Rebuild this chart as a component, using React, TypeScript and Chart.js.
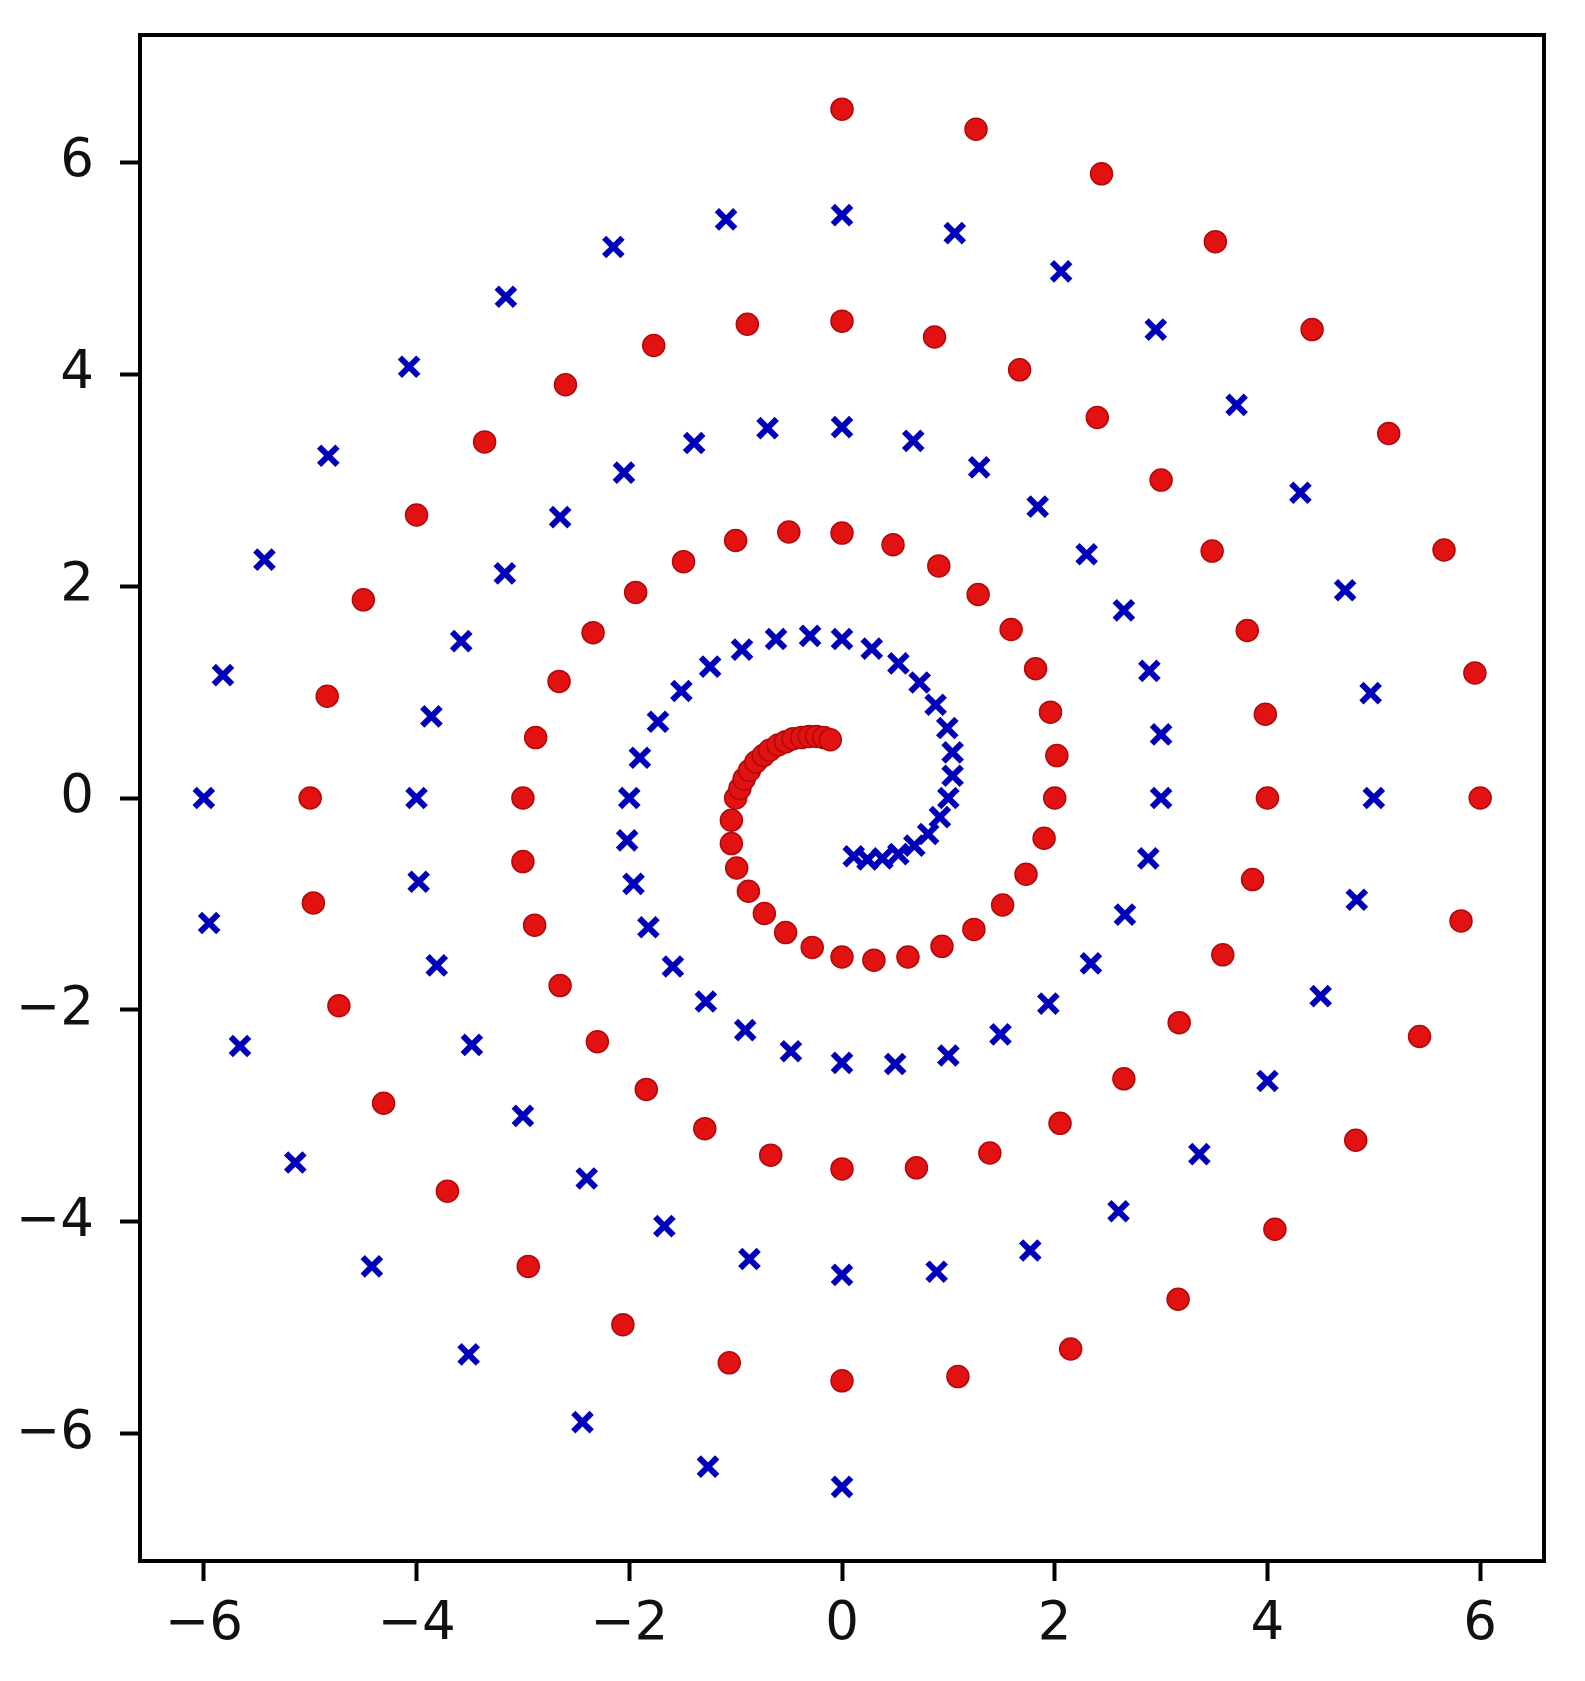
import React, { useEffect, useRef } from 'react';
import { Chart, registerables } from 'chart.js';

Chart.register(...registerables);

// Class A spiral (red circles), outer end first
// (the innermost curl is drawn densely in the picture, so it has more points)
const redX = [
  0, 1.26, 2.44, 3.51, 4.42, 5.14, 5.66, 5.95, 6.0, 5.82, 5.43, 4.83, 4.07, 3.16, 2.15, 1.09,
  0, -1.06, -2.06, -2.95, -3.71, -4.31, -4.73, -4.97, -5.0, -4.84, -4.5, -4.0, -3.36, -2.6, -1.77, -0.89,
  0, 0.87, 1.67, 2.4, 3.0, 3.48, 3.81, 3.98, 4.0, 3.86, 3.58, 3.17, 2.65, 2.05, 1.39, 0.7,
  0, -0.67, -1.29, -1.84, -2.3, -2.65, -2.89, -3.0, -3.0, -2.88, -2.66, -2.34, -1.94, -1.49, -1.0, -0.5,
  0, 0.48, 0.91, 1.28, 1.59, 1.82, 1.96, 2.02, 2.0, 1.9, 1.73, 1.51, 1.24, 0.94, 0.62, 0.3,
  0, -0.28, -0.53, -0.73, -0.88, -0.99, -1.04, -1.04,
  -1.0, -0.96, -0.92, -0.87, -0.81, -0.74, -0.68, -0.6, -0.53, -0.46, -0.38, -0.31, -0.24, -0.17, -0.11,
];
const redY = [
  6.5, 6.31, 5.89, 5.25, 4.42, 3.44, 2.34, 1.18, 0, -1.16, -2.25, -3.23, -4.07, -4.73, -5.2, -5.46,
  -5.5, -5.33, -4.97, -4.42, -3.71, -2.88, -1.96, -0.99, 0, 0.96, 1.87, 2.67, 3.36, 3.9, 4.27, 4.47,
  4.5, 4.35, 4.04, 3.59, 3.0, 2.33, 1.58, 0.79, 0, -0.77, -1.48, -2.12, -2.65, -3.07, -3.35, -3.49,
  -3.5, -3.37, -3.12, -2.75, -2.3, -1.77, -1.2, -0.6, 0, 0.57, 1.1, 1.56, 1.94, 2.23, 2.43, 2.51,
  2.5, 2.39, 2.19, 1.92, 1.59, 1.22, 0.81, 0.4, 0, -0.38, -0.72, -1.01, -1.24, -1.4, -1.5, -1.53,
  -1.5, -1.41, -1.27, -1.09, -0.88, -0.66, -0.43, -0.21,
  0, 0.09, 0.18, 0.26, 0.34, 0.4, 0.45, 0.5, 0.53, 0.56, 0.57, 0.58, 0.58, 0.57, 0.55,
];

// Class B spiral (blue crosses), outer end first
const blueX = [
  0, -1.26, -2.44, -3.51, -4.42, -5.14, -5.66, -5.95, -6.0, -5.82, -5.43, -4.83, -4.07, -3.16, -2.15, -1.09,
  0, 1.06, 2.06, 2.95, 3.71, 4.31, 4.73, 4.97, 5.0, 4.84, 4.5, 4.0, 3.36, 2.6, 1.77, 0.89,
  0, -0.87, -1.67, -2.4, -3.0, -3.48, -3.81, -3.98, -4.0, -3.86, -3.58, -3.17, -2.65, -2.05, -1.39, -0.7,
  0, 0.67, 1.29, 1.84, 2.3, 2.65, 2.89, 3.0, 3.0, 2.88, 2.66, 2.34, 1.94, 1.49, 1.0, 0.5,
  0, -0.48, -0.91, -1.28, -1.59, -1.82, -1.96, -2.02, -2.0, -1.9, -1.73, -1.51, -1.24, -0.94, -0.62, -0.3,
  0, 0.28, 0.53, 0.73, 0.88, 0.99, 1.04, 1.04, 1.0, 0.92, 0.81, 0.68, 0.53, 0.38, 0.24, 0.11,
];
const blueY = [
  -6.5, -6.31, -5.89, -5.25, -4.42, -3.44, -2.34, -1.18, 0, 1.16, 2.25, 3.23, 4.07, 4.73, 5.2, 5.46,
  5.5, 5.33, 4.97, 4.42, 3.71, 2.88, 1.96, 0.99, 0, -0.96, -1.87, -2.67, -3.36, -3.9, -4.27, -4.47,
  -4.5, -4.35, -4.04, -3.59, -3.0, -2.33, -1.58, -0.79, 0, 0.77, 1.48, 2.12, 2.65, 3.07, 3.35, 3.49,
  3.5, 3.37, 3.12, 2.75, 2.3, 1.77, 1.2, 0.6, 0, -0.57, -1.1, -1.56, -1.94, -2.23, -2.43, -2.51,
  -2.5, -2.39, -2.19, -1.92, -1.59, -1.22, -0.81, -0.4, 0, 0.38, 0.72, 1.01, 1.24, 1.4, 1.5, 1.53,
  1.5, 1.41, 1.27, 1.09, 0.88, 0.66, 0.43, 0.21, 0, -0.18, -0.34, -0.45, -0.53, -0.57, -0.58, -0.55,
];

const xTicks = [-6, -4, -2, 0, 2, 4, 6];
const yTicks = [-6, -4, -2, 0, 2, 4, 6];
const xLimits = [-6.6, 6.6];
const yLimits = [-7.2, 7.2];

const fmt = (v: number | string) => {
  const n = Number(v);
  return n < 0 ? '\u2212' + Math.abs(n) : String(n);
};

const framePlugin = {
  id: 'frameBox',
  afterDatasetsDraw(chart: any) {
    const { ctx, chartArea: a } = chart;
    ctx.save();
    ctx.strokeStyle = '#000';
    ctx.lineWidth = 4;
    ctx.strokeRect(a.left, a.top, a.right - a.left, a.bottom - a.top);
    ctx.restore();
  },
};

export default function App() {
  const ref = useRef<HTMLCanvasElement | null>(null);

  useEffect(() => {
    if (!ref.current) return;
    const tickFont = { family: '"DejaVu Sans", sans-serif', size: 53 };
    const gridOpts = {
      display: true,
      drawOnChartArea: false,
      drawTicks: true,
      tickLength: 20,
      tickWidth: 4,
      tickColor: '#000',
      color: '#000',
    };
    const chart = new Chart(ref.current, {
      type: 'scatter',
      data: {
        datasets: [
          {
            label: 'red',
            data: redX.map((x, i) => ({ x, y: redY[i] })),
            pointStyle: 'circle',
            pointRadius: 11,
            backgroundColor: '#e21212',
            borderColor: '#b00a0a',
            borderWidth: 1.5,
          },
          {
            label: 'blue',
            data: blueX.map((x, i) => ({ x, y: blueY[i] })),
            pointStyle: 'crossRot',
            pointRadius: 13,
            borderColor: '#0000bb',
            backgroundColor: '#0000bb',
            borderWidth: 6,
          },
        ],
      },
      options: {
        animation: false,
        responsive: false,
        maintainAspectRatio: false,
        events: [],
        layout: { padding: { top: 35, right: 41, left: 0, bottom: 0 } },
        plugins: { legend: { display: false }, tooltip: { enabled: false } },
        scales: {
          x: {
            type: 'linear',
            min: xLimits[0],
            max: xLimits[1],
            afterBuildTicks: (s: any) => {
              s.ticks = xTicks.map((v) => ({ value: v }));
            },
            afterFit: (s: any) => {
              s.height = 120;
              s.paddingLeft = 0;
              s.paddingRight = 0;
            },
            grid: gridOpts,
            border: { display: false },
            ticks: {
              font: tickFont,
              color: '#111',
              padding: 12,
              maxRotation: 0,
              autoSkip: false,
              callback: fmt,
            },
          },
          y: {
            type: 'linear',
            min: yLimits[0],
            max: yLimits[1],
            afterBuildTicks: (s: any) => {
              s.ticks = yTicks.map((v) => ({ value: v }));
            },
            afterFit: (s: any) => {
              s.width = 140;
              s.paddingTop = 0;
              s.paddingBottom = 0;
            },
            grid: gridOpts,
            border: { display: false },
            ticks: {
              font: tickFont,
              color: '#111',
              padding: 26,
              autoSkip: false,
              callback: fmt,
            },
          },
        },
      },
      plugins: [framePlugin],
    } as any);
    return () => chart.destroy();
  }, []);

  return (
    <div style={{ position: 'absolute', left: 0, top: 0, width: 1585, height: 1681, background: '#fff' }}>
      <canvas ref={ref} width={1585} height={1681} style={{ width: 1585, height: 1681, display: 'block' }} />
    </div>
  );
}
